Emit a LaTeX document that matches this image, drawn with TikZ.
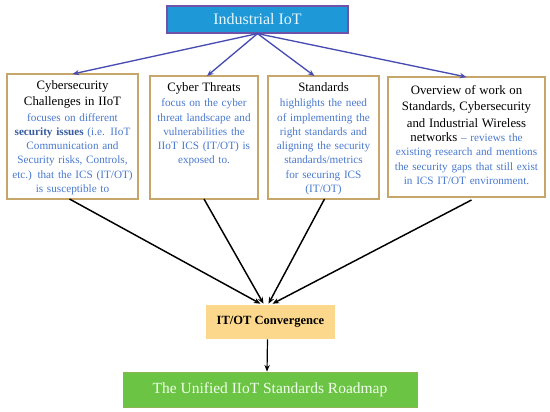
\documentclass[tikz,border=0pt]{standalone}
\usepackage{fontspec}
\setmainfont{Liberation Serif}
\usepackage{tikz}
\usetikzlibrary{arrows.meta,calc}

\definecolor{iotblue}{RGB}{30,152,214}
\definecolor{iotedge}{RGB}{112,82,168}
\definecolor{arrowblue}{RGB}{70,76,178}
\definecolor{boxedge}{RGB}{198,166,106}
\definecolor{desctext}{RGB}{72,120,206}
\definecolor{convfill}{RGB}{252,216,140}
\definecolor{mapgreen}{RGB}{108,196,68}
\definecolor{mapedge}{RGB}{140,180,80}

\newcommand{\hdfont}{\fontsize{9.6}{12.4}\selectfont}
\newcommand{\bodyfont}{\fontsize{8.4}{10.7}\selectfont}

\tikzset{
  topic/.style={draw=boxedge, line width=0.9pt, inner sep=0pt, outer sep=0pt},
  topictext/.style={anchor=north, align=center, inner sep=0pt, font=\bodyfont},
  bluearrow/.style={draw=arrowblue, line width=1pt, -{Stealth[length=5pt,width=4pt]}},
  blackarrow/.style={draw=black, line width=1.1pt, -{Stealth[length=5pt,width=4pt]}}
}

\begin{document}
\begin{tikzpicture}[x=0.75pt,y=0.75pt,yscale=-1,xscale=1]
%set diagram size
\useasboundingbox (0,0) rectangle (550,411);

%Shape: Rectangle [id:dp1] 
\node[draw=iotedge, line width=0.9pt, fill=iotblue, minimum width=135.75pt, minimum height=20.25pt, inner sep=0pt, text={rgb,255:red,228;green,246;blue,255}, font=\fontsize{12}{14}\selectfont] (iot) at (257.5,19.5) {Industrial IoT};

%Shape: Rectangle [id:dp2] 
\node[topic, minimum width=98.25pt, minimum height=93.75pt] (b1) at (72.5,136.5) {};
\node[topictext, text width=97pt] (t1) at ($(b1.north)+(0,6)$) {{\hdfont Cybersecurity\\[1.5pt] Challenges in IIoT}\\[1pt]
  {\color{desctext}focuses on different\\ \textbf{\color{desctext!75!black}security issues} (i.e. IIoT\\ Communication and\\ Security risks, Controls,\\ etc.) that the ICS (IT/OT)\\ is susceptible to}};

%Shape: Rectangle [id:dp3] 
\node[topic, minimum width=81pt, minimum height=92.25pt] (b2) at (204,137.5) {};
\node[topictext, text width=80pt] (t2) at ($(b2.north)+(0,6)$) {{\hdfont Cyber Threats}\\[1pt]
  {\color{desctext}focus on the cyber\\ threat landscape and\\ vulnerabilities the\\ IIoT ICS (IT/OT) is\\ exposed to.}};

%Shape: Rectangle [id:dp4] 
\node[topic, minimum width=83.25pt, minimum height=92.25pt] (b3) at (323.5,137.5) {};
\node[topictext, text width=82pt] (t3) at ($(b3.north)+(0,6)$) {{\hdfont Standards}\\[1pt]
  {\color{desctext}highlights the need\\ of implementing the\\ right standards and\\ aligning the security\\ standards/metrics\\ for securing ICS\\ (IT/OT)}};

%Shape: Rectangle [id:dp5] 
\node[topic, minimum width=117.75pt, minimum height=90pt] (b4) at (466.5,137) {};
\node[topictext, text width=116pt] (t4) at ($(b4.north)+(0,8)$) {{\hdfont Overview of work on\\ Standards, Cybersecurity\\ and Industrial Wireless\\ networks} {\color{desctext}-- reviews the\\ existing research and mentions\\ the security gaps that still exist\\ in ICS IT/OT environment.}};

%Shape: Rectangle [id:dp6] 
\node[fill=convfill, minimum width=96.75pt, minimum height=25.5pt, inner sep=0pt, font=\fontsize{9.4}{11}\selectfont\bfseries] (conv) at (270.5,322) {IT/OT Convergence};

%Shape: Rectangle [id:dp7] 
\node[draw=mapedge, line width=0.6pt, fill=mapgreen, minimum width=220.5pt, minimum height=26.25pt, inner sep=0pt, text={rgb,255:red,240;green,255;blue,236}, font=\fontsize{11.6}{13}\selectfont] (map) at (270,389.5) {The Unified IIoT Standards Roadmap};

%Straight Lines [id:da1] 
\draw[bluearrow] (iot.south) -- (b1.north);
\draw[bluearrow] (iot.south) -- ($(b2.north)+(3,0)$);
\draw[bluearrow] (iot.south) -- ($(b3.north)+(-9,0)$);
\draw[bluearrow] (iot.south) -- (b4.north);

%Straight Lines [id:da2] 
\draw[blackarrow] ($(b1.south)+(-3,0)$) -- ($(conv.north)+(-10,-1)$);
\draw[blackarrow] (b2.south) -- ($(conv.north)+(-7,-1)$);
\draw[blackarrow] ($(b3.south)+(1,0)$) -- ($(conv.north)+(-2,-1)$);
\draw[blackarrow] ($(b4.south)+(5,3)$) -- ($(conv.north)+(2,-1)$);

%Straight Lines [id:da3] 
\draw[blackarrow, line width=0.9pt] ($(conv.south)+(-3,0)$) -- ($(map.north)+(-3,0)$);

\end{tikzpicture}
\end{document}
